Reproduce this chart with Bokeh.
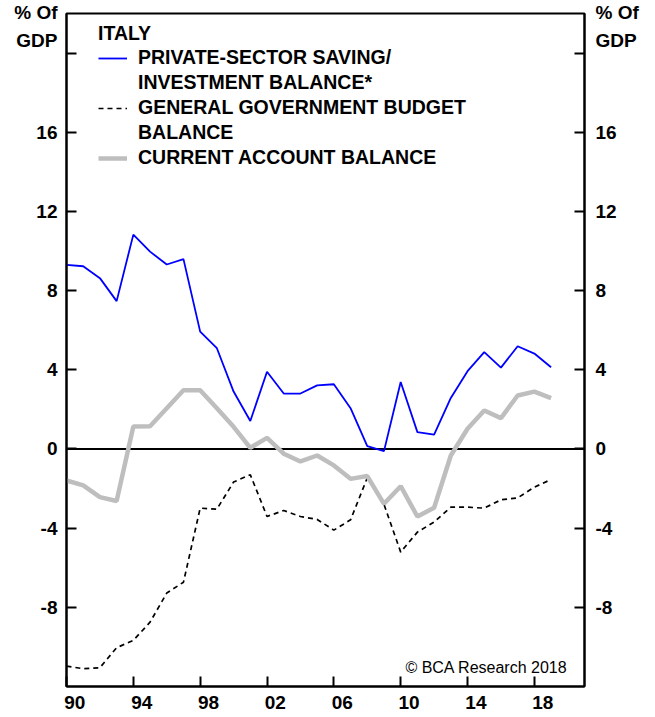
from bokeh.plotting import figure
from bokeh.models import (LinearAxis, FixedTicker, Span, Label, Legend,
                          LegendItem, Range1d)
from bokeh.embed import file_html
from bokeh.resources import INLINE

# ---------------- data ----------------
years = list(range(1990, 2020))
private_balance = [9.30, 9.23, 8.63, 7.47, 10.83, 9.97, 9.32, 9.59, 5.93, 5.09,
                   2.90, 1.41, 3.90, 2.80, 2.80, 3.21, 3.27, 2.06, 0.14, -0.11,
                   3.38, 0.85, 0.72, 2.58, 3.93, 4.89, 4.11, 5.19, 4.82, 4.13]
gov_budget = [-10.97, -11.10, -11.05, -10.04, -9.67, -8.75, -7.28, -6.73, -2.99, -3.04,
              -1.67, -1.30, -3.41, -3.11, -3.41, -3.56, -4.10, -3.58, -1.46, -2.80,
              -5.21, -4.20, -3.69, -2.94, -2.94, -2.99, -2.57, -2.47, -1.93, -1.54]
current_account = [-1.59, -1.84, -2.43, -2.63, 1.14, 1.15, 2.06, 2.97, 2.97, 2.06,
                   1.12, 0.06, 0.56, -0.24, -0.63, -0.33, -0.83, -1.51, -1.37, -2.77,
                   -1.88, -3.41, -2.97, -0.33, 1.02, 1.94, 1.56, 2.70, 2.90, 2.57]

x_ticks = [1990, 1994, 1998, 2002, 2006, 2010, 2014, 2018]
x_tick_labels = ["90", "94", "98", "02", "06", "10", "14", "18"]
y_ticks = [-8, -4, 0, 4, 8, 12, 16, 20]
y_tick_labels = ["-8", "-4", "0", "4", "8", "12", "16", ""]

legend_title = "ITALY"
legend_labels = ["PRIVATE-SECTOR SAVING/", "INVESTMENT BALANCE*",
                 "GENERAL GOVERNMENT BUDGET", "BALANCE",
                 "CURRENT ACCOUNT BALANCE"]
unit_label = "% Of\nGDP"
copyright_text = "\u00a9 BCA Research 2018"

FONT = "Liberation Sans"

# ---------------- figure ----------------
p = figure(frame_width=518, frame_height=673,
           x_range=Range1d(1990, 2021), y_range=Range1d(-12, 22),
           min_border_left=66, min_border_right=71,
           min_border_top=13, min_border_bottom=31,
           output_backend="svg", toolbar_location=None,
           background_fill_color="white", border_fill_color="white")

p.xgrid.visible = False
p.ygrid.visible = False
p.outline_line_color = "black"
p.outline_line_width = 2
p.outline_line_alpha = 1

# zero line
p.add_layout(Span(location=0, dimension="width", line_color="black",
                  line_width=2, level="underlay"))

# lines
dashed = p.line(years, gov_budget, line_color="black", line_width=1.7,
                line_dash="5 4")
blue = p.line(years, private_balance, line_color="#0000FF", line_width=1.8)
gray = p.line(years, current_account, line_color="#BEBEBE", line_width=4.5)
dummy = p.line(x=[], y=[], line_alpha=0)

# ---- axes: visible tick marks drawn as "minor" ticks, labels as majors ----
# x labels sit just right of each tick (left-aligned in the reference)
x_label_pos = [t + 0.5 for t in x_ticks]
x_over = {pos: lab for pos, lab in zip(x_label_pos, x_tick_labels)}

# y labels: numbers at the ticks plus the unit label block at the top
unit_pos = 21.35
y_label_pos = [t for t, l in zip(y_ticks, y_tick_labels) if l] + [unit_pos]
y_over = {t: l for t, l in zip(y_ticks, y_tick_labels) if l}
y_over[unit_pos] = unit_label


def style_axis(ax, standoff):
    ax.axis_line_width = 2
    ax.axis_line_color = "black"
    ax.major_tick_line_color = None
    ax.major_tick_in = 0
    ax.major_tick_out = 0
    ax.minor_tick_line_color = "black"
    ax.minor_tick_line_width = 2
    ax.minor_tick_in = 10
    ax.minor_tick_out = 0
    ax.major_label_text_font = FONT
    ax.major_label_text_font_style = "bold"
    ax.major_label_text_font_size = "19px"
    ax.major_label_text_color = "black"
    ax.major_label_text_line_height = 1.35
    ax.major_label_standoff = standoff


xa = p.xaxis[0]
xa.ticker = FixedTicker(ticks=x_label_pos, minor_ticks=x_ticks)
xa.major_label_overrides = x_over
style_axis(xa, 9)

ya = p.yaxis[0]
ya.ticker = FixedTicker(ticks=y_label_pos, minor_ticks=y_ticks)
ya.major_label_overrides = y_over
style_axis(ya, 9)

yr = LinearAxis(ticker=FixedTicker(ticks=y_label_pos, minor_ticks=y_ticks))
yr.major_label_overrides = y_over
style_axis(yr, 11)
p.add_layout(yr, "right")

p.add_layout(Label(x=2021, y=-11.04, x_offset=-17, text=copyright_text,
                   text_align="right", text_baseline="alphabetic",
                   text_font=FONT, text_font_size="16px", text_color="black"))

# legend
items = [LegendItem(label=legend_labels[0], renderers=[blue]),
         LegendItem(label=legend_labels[1], renderers=[dummy]),
         LegendItem(label=legend_labels[2], renderers=[dashed]),
         LegendItem(label=legend_labels[3], renderers=[dummy]),
         LegendItem(label=legend_labels[4], renderers=[gray])]
legend = Legend(items=items, location=(32, 517), title=legend_title,
                title_text_font=FONT, title_text_font_style="bold",
                title_text_font_size="19.5px", title_text_color="black",
                title_standoff=1,
                label_text_font=FONT, label_text_font_style="bold",
                label_text_font_size="19.5px", label_text_color="black",
                label_standoff=11, label_height=22, glyph_width=29,
                glyph_height=14, spacing=2, padding=0, margin=0,
                border_line_alpha=0, background_fill_alpha=0)
p.add_layout(legend, "center")

open("out.html", "w").write(file_html(p, INLINE))
